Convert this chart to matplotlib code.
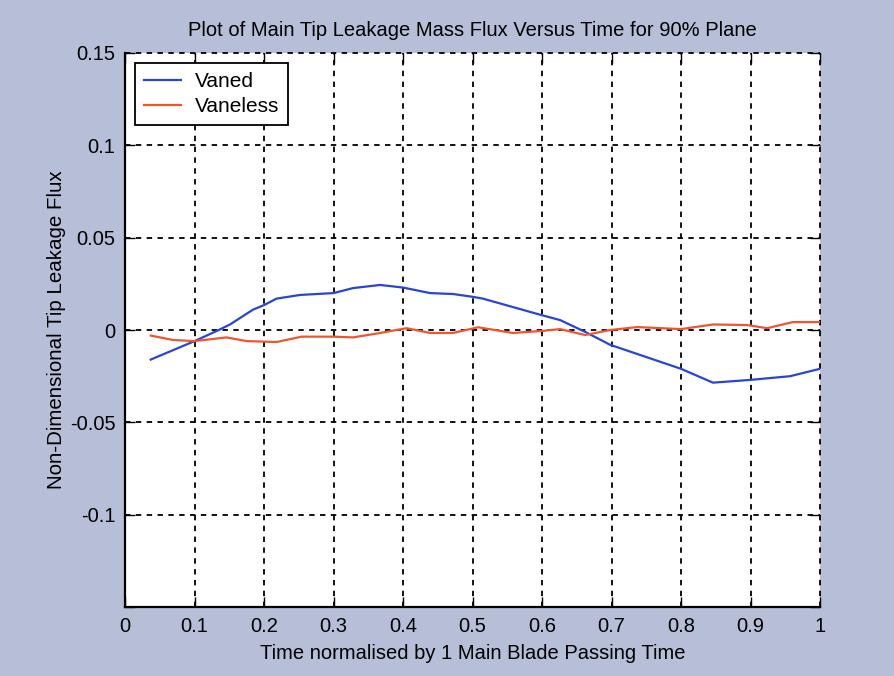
import matplotlib
matplotlib.use("Agg")
import matplotlib.pyplot as plt

# Time normalised by one main blade passing time
vaned_t = [0.037, 0.100, 0.132, 0.151, 0.184, 0.200, 0.218, 0.252, 0.300, 0.328,
           0.367, 0.400, 0.439, 0.472, 0.500, 0.515, 0.600, 0.626, 0.662, 0.698,
           0.800, 0.846, 0.900, 0.957, 1.000]
vaned_flux = [-0.016, -0.006, -0.0005, 0.003, 0.011, 0.0135, 0.017, 0.019, 0.020, 0.0227,
              0.0244, 0.023, 0.020, 0.0195, 0.018, 0.017, 0.008, 0.0054, -0.001, -0.008,
              -0.021, -0.0285, -0.027, -0.025, -0.021]

vaneless_t = [0.037, 0.069, 0.100, 0.146, 0.175, 0.218, 0.254, 0.300, 0.328, 0.367,
              0.405, 0.439, 0.472, 0.508, 0.558, 0.600, 0.626, 0.662, 0.698, 0.737,
              0.800, 0.846, 0.895, 0.924, 0.961, 1.000]
vaneless_flux = [-0.003, -0.0054, -0.006, -0.004, -0.006, -0.0065, -0.0036, -0.0036, -0.004, -0.0016,
                 0.001, -0.0016, -0.0016, 0.0015, -0.0016, -0.0005, 0.0005, -0.0027, 0.0, 0.0016,
                 0.0005, 0.003, 0.0027, 0.001, 0.0043, 0.0043]

x_ticks = [0, 0.1, 0.2, 0.3, 0.4, 0.5, 0.6, 0.7, 0.8, 0.9, 1]
x_tick_labels = ["0", "0.1", "0.2", "0.3", "0.4", "0.5", "0.6", "0.7", "0.8", "0.9", "1"]
y_ticks = [-0.15, -0.1, -0.05, 0, 0.05, 0.1, 0.15]
y_tick_labels = ["", "-0.1", "-0.05", "0", "0.05", "0.1", "0.15"]

plt.rcParams["font.family"] = ["Liberation Sans", "DejaVu Sans"]

bg = "#b7bfd8"
fig = plt.figure(figsize=(8.95, 6.76), dpi=100, facecolor=bg)
ax = fig.add_axes([0.1397, 0.102, 0.7765, 0.8196])
ax.set_facecolor("white")

ax.plot(vaned_t, vaned_flux, color="#2a44d4", lw=1.6, label="Vaned")
ax.plot(vaneless_t, vaneless_flux, color="#f0552f", lw=1.6, label="Vaneless")

ax.set_xlim(0, 1)
ax.set_ylim(-0.15, 0.15)
ax.set_xticks(x_ticks)
ax.set_xticklabels(x_tick_labels)
ax.set_yticks(y_ticks)
ax.set_yticklabels(y_tick_labels)

ax.grid(True, color="black", linestyle=(0, (3, 3)), linewidth=1.3)
for gl in ax.get_xgridlines() + ax.get_ygridlines():
    gl.set_clip_on(False)

ax.tick_params(direction="in", length=7, width=1.0, top=True, right=True,
               labelsize=14.5, pad=7, colors="black")
for side in ("top", "right"):
    ax.spines[side].set_visible(False)
for side in ("left", "bottom"):
    ax.spines[side].set_linewidth(1.6)

ax.set_title("Plot of Main Tip Leakage Mass Flux Versus Time for 90% Plane",
             fontsize=14.5, pad=12)
ax.set_xlabel("Time normalised by 1 Main Blade Passing Time", fontsize=14.5, labelpad=6)
ax.set_ylabel("Non-Dimensional Tip Leakage Flux", fontsize=14.8, labelpad=3)

leg = ax.legend(loc="upper left", fontsize=15, fancybox=False, framealpha=1,
                edgecolor="black", borderpad=0.42, handlelength=1.75,
                handletextpad=0.7, labelspacing=0.3, borderaxespad=0.5)
leg.get_frame().set_linewidth(1.3)

fig.savefig("out.png", dpi=100, facecolor=bg)
